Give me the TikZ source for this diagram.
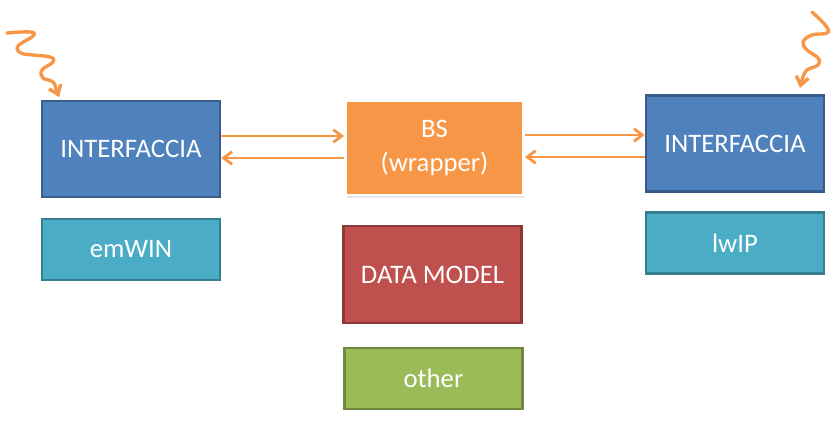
\documentclass[tikz,border=0pt]{standalone}
\usepackage{fontspec}
\setmainfont{Carlito}
\usepackage{tikz}
\usetikzlibrary{calc}
\usetikzlibrary{arrows.meta}
\usetikzlibrary{shadows}

\definecolor{ifblue}{HTML}{4F81BD}
\definecolor{ifblueline}{HTML}{385D8A}
\definecolor{libteal}{HTML}{4BACC6}
\definecolor{libtealline}{HTML}{357D91}
\definecolor{bsorange}{HTML}{F79646}
\definecolor{dmred}{HTML}{C0504D}
\definecolor{dmredline}{HTML}{8C3836}
\definecolor{othgreen}{HTML}{9BBB59}
\definecolor{othgreenline}{HTML}{71893F}

\tikzset{
  box/.style={rectangle, line width=1.8pt, text=white, align=center,
    font=\fontsize{19}{24}\selectfont, minimum width=4.45cm},
  ifbox/.style={box, fill=ifblue, draw=ifblueline, minimum height=2.4cm},
  libbox/.style={box, fill=libteal, draw=libtealline, minimum height=1.52cm},
  link/.style={draw=bsorange, line width=2pt, -{Straight Barb[length=6pt,width=9pt]}},
  wiggle/.style={link, line width=2.4pt, line cap=round, line join=round}
}

\begin{document}
\begin{tikzpicture}[x=0.025cm,y=-0.025cm]

\useasboundingbox (0,0) rectangle (840,426);

\node[ifbox] (ifleft) at (131,149) {INTERFACCIA};
\node[libbox] (emwin) at (131,249.5) {emWIN};

\node[box, fill=bsorange, draw=white, line width=2pt, minimum height=2.35cm,
  drop shadow={opacity=0.18, shadow xshift=1.2pt, shadow yshift=-1.8pt}] (bs) at (434.5,148) {BS\\(wrapper)};
\node[box, fill=dmred, draw=dmredline, minimum height=2.42cm] (dm) at (432.5,274.5) {DATA MODEL};
\node[box, fill=othgreen, draw=othgreenline, minimum height=1.52cm] (other) at (433.5,378.5) {other};

\node[ifbox] (ifright) at (735,143.5) {INTERFACCIA};
\node[libbox] (lwip) at (735,243) {lwIP};

\coordinate (hiL) at (0,136);
\coordinate (loL) at (0,158);
\coordinate (hiR) at (0,135);
\coordinate (loR) at (0,157);

\draw[link] (ifleft.east |- hiL) -- (bs.west |- hiL);
\draw[link] (bs.west |- loL) -- (ifleft.east |- loL);
\draw[link] (bs.east |- hiR) -- (ifright.west |- hiR);
\draw[link] (ifright.west |- loR) -- (bs.east |- loR);

% freehand arrows
\draw[wiggle] plot[smooth, tension=0.7] coordinates {(7,33) (30,32) (33,36) (18,46) (21,53) (33,55) (50,57) (53,62) (42,70) (43,78) (53,82) (57,92) (59,97)};
\draw[wiggle] plot[smooth, tension=0.7] coordinates {(812,12) (826,26) (827,33) (812,35) (803,42) (807,50) (818,58) (818,65) (807,70) (803,77) (800,88)};

\end{tikzpicture}
\end{document}
